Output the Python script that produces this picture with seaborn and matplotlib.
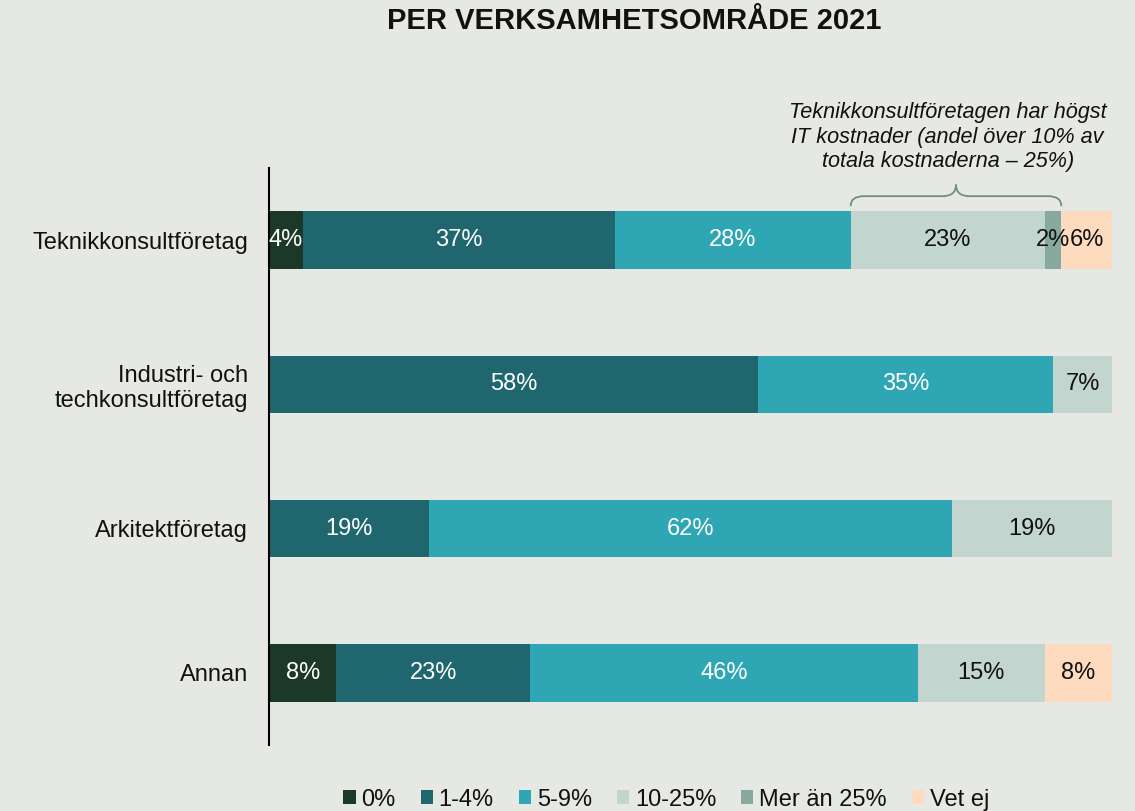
import matplotlib
matplotlib.use("Agg")
import matplotlib.pyplot as plt
from matplotlib.patches import Patch, PathPatch
from matplotlib.path import Path
import numpy as np
import pandas as pd
import seaborn as sns

# IT cost share of total costs, per business area (percent of respondents)
categories = ["Teknikkonsultföretag", "Industri- och\ntechkonsultföretag",
              "Arkitektföretag", "Annan"]
bands = ["0%", "1-4%", "5-9%", "10-25%", "Mer än 25%", "Vet ej"]
share_0 = [4, 0, 0, 8]
share_1_4 = [37, 58, 19, 23]
share_5_9 = [28, 35, 62, 46]
share_10_25 = [23, 7, 19, 15]
share_over_25 = [2, 0, 0, 0]
share_unknown = [6, 0, 0, 8]

series = [share_0, share_1_4, share_5_9, share_10_25, share_over_25, share_unknown]
colors = ["#1C3826", "#1F666E", "#2EA6B4", "#C3D5CF", "#87A99F", "#FEDBBE"]
text_colors = ["white", "white", "white", "#111111", "#111111", "#111111"]
bg = "#E6E8E3"

sns.set_theme(style="white")
plt.rcParams["font.family"] = ["Liberation Sans", "DejaVu Sans"]

# long table with start / end of every stacked segment
rows = []
for b, vals in zip(bands, series):
    for c, v in zip(categories, vals):
        rows.append({"category": c, "band": b, "value": v})
df = pd.DataFrame(rows)
df["band"] = pd.Categorical(df["band"], categories=bands, ordered=True)
df = df.sort_values(["category", "band"])
df["end"] = df.groupby("category", sort=False)["value"].cumsum()
df["start"] = df["end"] - df["value"]

fig = plt.figure(figsize=(11.35, 8.11), dpi=100, facecolor=bg)
ax = fig.add_axes([0.237, 0.0814, 0.7427, 0.7114])
ax.set_facecolor(bg)

# stacked bars: draw cumulative totals from the outermost band inwards
for b, col in reversed(list(zip(bands, colors))):
    sub = df[df["band"] == b]
    sns.barplot(data=sub, x="end", y="category", order=categories, orient="y",
                color=col, width=0.4, linewidth=0, saturation=1, ax=ax)

# value labels centred in each segment
for i, c in enumerate(categories):
    for b, tc in zip(bands, text_colors):
        r = df[(df["category"] == c) & (df["band"] == b)].iloc[0]
        if r["value"] > 0:
            ax.text(r["start"] + r["value"] / 2, i, f"{int(r['value'])}%",
                    ha="center", va="center", color=tc, fontsize=17)

ax.set_xlim(0, 100)
ax.set_ylim(3.5, -0.5)
ax.set_xticks([])
ax.set_xlabel("")
ax.set_ylabel("")
ax.tick_params(axis="y", length=0, pad=15, labelsize=17, labelcolor="#111111")
for lab in ax.get_yticklabels():
    lab.set_multialignment("right")
for s in ["top", "right", "bottom"]:
    ax.spines[s].set_visible(False)
ax.spines["left"].set_color("black")
ax.spines["left"].set_linewidth(1.5)

# curly brace over the 10-25% and >25% segments of the first bar
tek = df[df["category"] == categories[0]].set_index("band")
x0 = tek.loc["10-25%", "start"]
x1 = tek.loc["Mer än 25%", "end"]
xm = (x0 + x1) / 2
y_end, y_mid, y_tip = -0.235, -0.305, -0.385
dx = 1.6
verts = [(x0, y_end), (x0, y_mid), (x0 + dx, y_mid),
         (xm - dx, y_mid), (xm, y_mid), (xm, y_tip),
         (xm, y_mid), (xm + dx, y_mid),
         (x1 - dx, y_mid), (x1, y_mid), (x1, y_end)]
codes = [Path.MOVETO, Path.CURVE3, Path.CURVE3,
         Path.LINETO, Path.CURVE3, Path.CURVE3,
         Path.CURVE3, Path.CURVE3,
         Path.LINETO, Path.CURVE3, Path.CURVE3]
ax.add_patch(PathPatch(Path(verts, codes), fill=False, edgecolor="#6F8E84",
                       linewidth=1.3, clip_on=False))

fig.text(0.835, 0.831,
         "Teknikkonsultföretagen har högst\nIT kostnader (andel över 10% av\ntotala kostnaderna – 25%)",
         ha="center", va="center", fontsize=15.6, style="italic",
         linespacing=1.2, color="#111111")

fig.text(0.5586, 0.974, "PER VERKSAMHETSOMRÅDE 2021", ha="center", va="center",
         fontsize=21, fontweight="bold", color="#111111")

handles = [Patch(facecolor=c, edgecolor="none", label=b) for b, c in zip(bands, colors)]
fig.legend(handles=handles, loc="center", bbox_to_anchor=(0.587, 0.014), ncol=6,
           frameon=False, fontsize=17, handlelength=0.52, handleheight=0.52,
           handletextpad=0.25, columnspacing=1.05, labelcolor="#111111")

fig.savefig("out.png", dpi=100, facecolor=bg)
